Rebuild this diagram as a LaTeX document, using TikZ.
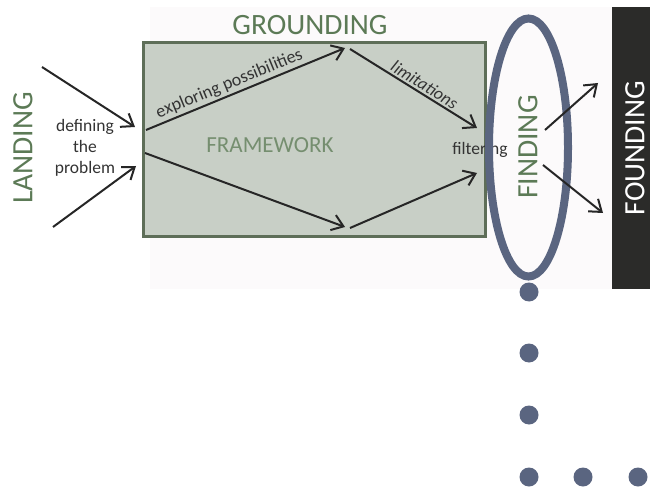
\documentclass[tikz,border=0pt]{standalone}
\usepackage{fontspec}
\setmainfont{Carlito}
\usetikzlibrary{arrows.meta,positioning,shapes.geometric}
\definecolor{BoxGreen}{HTML}{C8CFC6}
\definecolor{EdgeGreen}{HTML}{5E6E58}
\definecolor{TextGreen}{HTML}{5C7A56}
\definecolor{RingBlue}{HTML}{5A6580}
\definecolor{BarBlack}{HTML}{2B2B29}
\definecolor{PaleBack}{HTML}{FCFAFB}

\begin{document}
\begin{tikzpicture}[x=1pt, y=-1pt,
    stage/.style={text=TextGreen, font=\fontsize{29.5}{31}\selectfont, inner sep=0pt},
    small/.style={text=black!80, font=\fontsize{17.5}{21}\selectfont, align=center, inner sep=1pt},
    arrow/.style={-{Straight Barb[length=11pt,width=16pt]}, line width=2pt, draw=black!85},
    dot/.style={circle, fill=RingBlue, minimum size=19pt, inner sep=0pt}
]
\useasboundingbox (0,0) rectangle (650,489);
\fill[PaleBack] (150,7) rectangle (612,289);
\node[draw=EdgeGreen, fill=BoxGreen, line width=3pt, minimum width=342pt, minimum height=193pt, inner sep=0pt] (frame) at (314,139.5) {};
\node[stage] (grounding) at (310,25) {GROUNDING};
\node[stage, rotate=90] (landing) at (23,148) {LANDING};
\node[stage, font=\fontsize{23}{25}\selectfont, text=TextGreen!85!white] (framework) at (270,145) {FRAMEWORK};
\node[small] (defining) at (85,148) {defining\\the\\problem};
\node[small] (filtering) at (480,150) {filtering};
\coordinate (l1) at (42,67);
\coordinate (l2) at (135,127);
\coordinate (l3) at (53,227);
\coordinate (l4) at (136,166);
\coordinate (e1) at (146,130);
\coordinate (e2) at (345,48);
\coordinate (m1) at (350,49);
\coordinate (m2) at (477,128);
\coordinate (c1) at (145,153);
\coordinate (c2) at (345,227);
\coordinate (f1) at (350,228);
\coordinate (f2) at (477,173);
\coordinate (r1) at (545,130);
\coordinate (r2) at (598,83);
\coordinate (r3) at (543,165);
\coordinate (r4) at (603,213);
\draw[arrow] (l1) -- (l2);
\draw[arrow] (l3) -- (l4);
\draw[arrow] (e1) -- node[small, pos=0.44, sloped, above=1pt, font=\fontsize{18}{21}\selectfont] {exploring possibilities} (e2);
\draw[arrow] (m1) -- node[small, pos=0.55, sloped, above=1pt, font=\fontsize{17.5}{21}\itshape] {limitations} (m2);
\draw[arrow] (c1) -- (c2);
\draw[arrow] (f1) -- (f2);
\node[draw=RingBlue, line width=8pt, ellipse, minimum width=79pt, minimum height=258pt, inner sep=0pt] (ring) at (528.5,147.5) {};
\node[stage, rotate=90] (finding) at (528,147) {FINDING};
\draw[arrow] (r1) -- (r2);
\draw[arrow] (r3) -- (r4);
\fill[BarBlack] (612,7) rectangle (650,289);
\node[stage, rotate=90, text=white] (founding) at (635,148) {FOUNDING};
\node[dot] (d1) at (529,292) {};
\node[dot] (d2) at (529,353) {};
\node[dot] (d3) at (529,415) {};
\node[dot] (d4) at (529,477) {};
\node[dot] (d5) at (583,477) {};
\node[dot] (d6) at (638,477) {};
\end{tikzpicture}
\end{document}
